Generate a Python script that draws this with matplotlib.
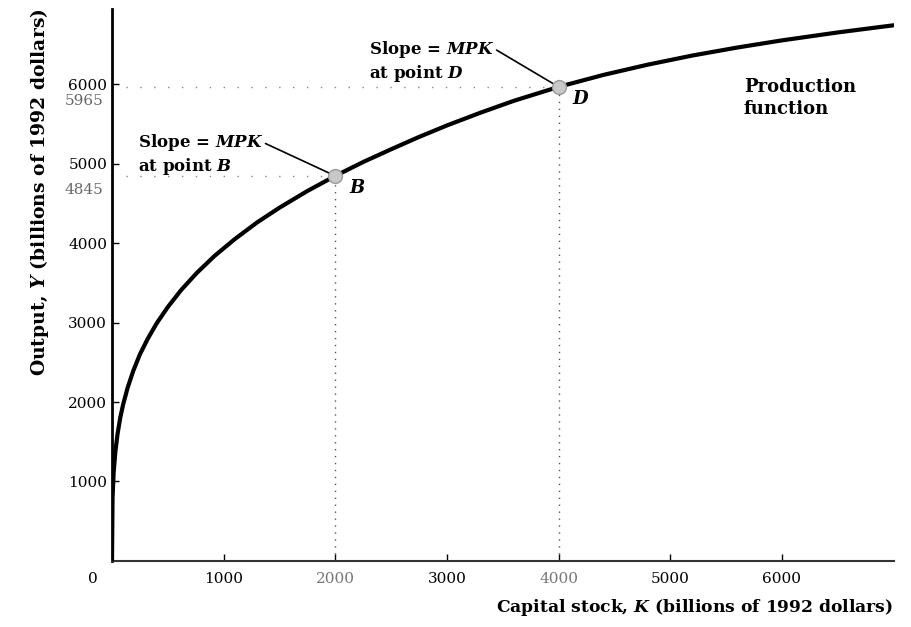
import numpy as np
import matplotlib
matplotlib.use('Agg')
import matplotlib.pyplot as plt
import matplotlib.transforms as mtransforms

'Fonts - serif textbook look'
plt.rcParams['font.family'] = ['DejaVu Serif']
plt.rcParams['mathtext.fontset'] = 'custom'
plt.rcParams['mathtext.it'] = 'DejaVu Serif:italic:bold'
plt.rcParams['mathtext.rm'] = 'DejaVu Serif:bold'

'Production function read off the picture (billions of 1992 dollars)'
capital = [0, 5, 15, 30, 50, 75, 100, 140, 190, 250, 320, 400, 500, 620, 760, 920,
           1100, 1300, 1500, 1750, 2000, 2250, 2500, 2750, 3000, 3300, 3600, 4000,
           4400, 4800, 5200, 5600, 6000, 6500, 7000]
output = [0, 800, 1115, 1375, 1600, 1810, 1970, 2180, 2390, 2600, 2795, 2990, 3195,
          3410, 3625, 3840, 4050, 4260, 4445, 4655, 4845, 5020, 5180, 5335, 5480,
          5640, 5790, 5965, 6115, 6245, 6360, 6460, 6550, 6650, 6740]

'Marked points'
point_names = ['B', 'D']
point_K = [2000, 4000]
point_Y = [4845, 5965]

x_ticks = [0, 1000, 2000, 3000, 4000, 5000, 6000]
y_ticks = [1000, 2000, 3000, 4000, 5000, 6000]

fig = plt.figure(figsize=(9.12, 6.27), dpi=100)
ax = fig.add_axes([0.1228, 0.1053, 0.857, 0.881])

ax.plot(capital, output, color='black', lw=3, solid_capstyle='round',
        solid_joinstyle='round', zorder=3)

for name, k, y in zip(point_names, point_K, point_Y):
    # dotted guides to the axes
    ax.plot([k, k], [0, y], ls=(0, (1, 4)), color='#555555', lw=1, zorder=2)
    ax.plot([0, k], [y, y], ls=(0, (1, 9)), color='#888888', lw=1, zorder=2)
    ax.plot(k, y, 'o', ms=10, mfc='#c8c8c8', mec='#9a9a9a', mew=1, zorder=4)
    ax.annotate(name, (k, y), xytext=(10, -9), textcoords='offset points',
                fontsize=13, fontstyle='italic', fontweight='bold', va='center', ha='left')
    # value label just under the round tick label
    ax.annotate(str(y), (0, y), xycoords=('axes fraction', 'data'), xytext=(-6, -10),
                textcoords='offset points', ha='right', va='center', fontsize=11,
                color='#666666')

'Slope labels'
ax.annotate('Slope = $\\it{MPK}$\nat point $\\it{B}$', xy=(point_K[0], point_Y[0]),
            xytext=(230, 5110), fontsize=12, fontweight='bold', ha='left', va='center',
            linespacing=1.2,
            arrowprops=dict(arrowstyle='-', color='black', lw=1.2, shrinkA=0, shrinkB=5,
                            relpos=(1.0, 0.78)))
ax.annotate('Slope = $\\it{MPK}$\nat point $\\it{D}$', xy=(point_K[1], point_Y[1]),
            xytext=(2300, 6290), fontsize=12, fontweight='bold', ha='left', va='center',
            linespacing=1.2,
            arrowprops=dict(arrowstyle='-', color='black', lw=1.2, shrinkA=0, shrinkB=5,
                            relpos=(1.0, 0.78)))
ax.text(5660, 5830, 'Production\nfunction', fontsize=13, fontweight='bold',
        ha='left', va='center', linespacing=1.3)

ax.set_xlim(0, 7000)
ax.set_ylim(0, 6950)
ax.set_xticks(x_ticks)
ax.set_xticklabels([str(t) for t in x_ticks])
ax.set_yticks(y_ticks)
ax.set_yticklabels([str(t) for t in y_ticks])
ax.tick_params(direction='in', length=5, width=1, labelsize=11)
ax.tick_params(axis='x', pad=8)
for lab, t in zip(ax.get_xticklabels(), x_ticks):
    if t in point_K:
        lab.set_color('#777777')
    if t == 0:
        # the origin label sits a little left of the axis
        lab.set_transform(lab.get_transform() +
                          mtransforms.ScaledTranslation(-14 / 72, 0, fig.dpi_scale_trans))

ax.spines['top'].set_visible(False)
ax.spines['right'].set_visible(False)
ax.spines['left'].set_linewidth(2)
ax.spines['bottom'].set_linewidth(1.5)
ax.spines['bottom'].set_color('#333333')

ax.set_xlabel('Capital stock, $\\it{K}$ (billions of 1992 dollars)', fontsize=12.3,
              fontweight='bold', loc='right', labelpad=8)
ax.set_ylabel('Output, $\\it{Y}$ (billions of 1992 dollars)', fontsize=13.5,
              fontweight='bold', loc='top', labelpad=12)

plt.savefig('out.png', dpi=100)
